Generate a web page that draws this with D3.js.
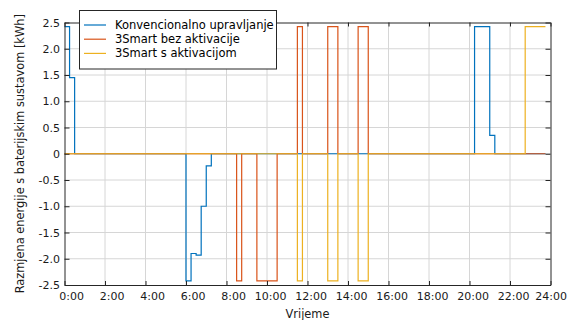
<!DOCTYPE html>
<html>
<head>
<meta charset="utf-8">
<script src="https://cdn.jsdelivr.net/npm/d3@7/dist/d3.min.js"></script>
<style>
  html, body { margin: 0; padding: 0; background: #fff; }
  svg { display: block; font-family: "DejaVu Sans", Verdana, sans-serif; }
</style>
</head>
<body>
<svg id="chart" width="568" height="320"></svg>
<script>
// Step series: hour at which each level starts, and the level (kWh)
const seriesNames = ["Konvencionalno upravljanje", "3Smart bez aktivacije", "3Smart s aktivacijom"];
const seriesColors = ["#0072BD", "#D95319", "#EDB120"];

const konvHours  = [0, 0.25, 0.5, 6.0, 6.25, 6.5, 6.75, 7.0, 7.25, 20.25, 21.0, 21.25];
const konvValues = [2.42, 1.45, 0, -2.42, -1.90, -1.93, -1.0, -0.23, 0, 2.42, 0.35, 0];

const bezHours  = [0, 8.5, 8.75, 9.5, 10.5, 11.5, 11.75, 13.0, 13.5, 14.5, 15.0];
const bezValues = [0, -2.42, 0, -2.42, 0, 2.42, 0, 2.42, 0, 2.42, 0];

const sHours  = [0, 11.5, 11.75, 13.0, 13.5, 14.5, 15.0, 22.75];
const sValues = [0, -2.42, 0, -2.42, 0, -2.42, 0, 2.42];

const lastHour = 23.75;

const xTicks = [0, 2, 4, 6, 8, 10, 12, 14, 16, 18, 20, 22, 24];
const xTickLabels = ["0:00", "2:00", "4:00", "6:00", "8:00", "10:00", "12:00", "14:00", "16:00", "18:00", "20:00", "22:00", "24:00"];
const yTicks = [-2.5, -2.0, -1.5, -1.0, -0.5, 0, 0.5, 1.0, 1.5, 2.0, 2.5];
const yTickLabels = ["-2.5", "-2.0", "-1.5", "-1.0", "-0.5", "0", "0.5", "1.0", "1.5", "2.0", "2.5"];

const xTitle = "Vrijeme";
const yTitle = "Razmjena energije s baterijskim sustavom [kWh]";

const svg = d3.select("#chart");
const W = 568;
const plotLeft = 64.5, plotRight = 550.5, plotTop = 22.5, plotBottom = 285;

const x = d3.scaleLinear().domain([0, 24]).range([plotLeft, plotRight]);
const y = d3.scaleLinear().domain([-2.5, 2.5]).range([plotBottom, plotTop]);

const axisColor = "#262626";
const gridColor = "#d6d6d6";

// Grid
const grid = svg.append("g");
grid.selectAll("line.vx").data(xTicks.slice(1, -1)).join("line")
  .attr("x1", d => x(d)).attr("x2", d => x(d))
  .attr("y1", plotTop).attr("y2", plotBottom)
  .attr("stroke", gridColor).attr("stroke-width", 1);
grid.selectAll("line.hy").data(yTicks.slice(1, -1)).join("line")
  .attr("y1", d => y(d)).attr("y2", d => y(d))
  .attr("x1", plotLeft).attr("x2", plotRight)
  .attr("stroke", gridColor).attr("stroke-width", 1);

// Series
function toPoints(hours, values) {
  const pts = hours.map((h, i) => [h, values[i]]);
  pts.push([lastHour, values[values.length - 1]]);
  return pts;
}
const series = [
  toPoints(konvHours, konvValues),
  toPoints(bezHours, bezValues),
  toPoints(sHours, sValues)
];
const line = d3.line().x(d => x(d[0])).y(d => y(d[1])).curve(d3.curveStepAfter);
svg.append("g").selectAll("path").data(series).join("path")
  .attr("d", line)
  .attr("fill", "none")
  .attr("stroke", (d, i) => seriesColors[i])
  .attr("stroke-width", 1.2);

// Axes (ticks inward on all four sides)
const fmtX = d => xTickLabels[xTicks.indexOf(d)];
const fmtY = d => yTickLabels[yTicks.indexOf(d)];

const gx = svg.append("g").attr("transform", `translate(0,${plotBottom})`)
  .call(d3.axisBottom(x).tickValues(xTicks).tickFormat(fmtX).tickSizeInner(-4).tickSizeOuter(0));
// labels sit right-aligned just past their tick; keep the last one inside the page
gx.selectAll("text").attr("text-anchor", "end")
  .attr("dx", d => Math.min(19, W - 1.5 - x(d)))
  .attr("y", 14.5).attr("dy", 0);

const gxt = svg.append("g").attr("transform", `translate(0,${plotTop})`)
  .call(d3.axisTop(x).tickValues(xTicks).tickFormat("").tickSizeInner(-4).tickSizeOuter(0));

const gy = svg.append("g").attr("transform", `translate(${plotLeft},0)`)
  .call(d3.axisLeft(y).tickValues(yTicks).tickFormat(fmtY).tickSizeInner(-5).tickSizeOuter(0));
gy.selectAll("text").attr("x", -4.5);

const gyr = svg.append("g").attr("transform", `translate(${plotRight},0)`)
  .call(d3.axisRight(y).tickValues(yTicks).tickFormat("").tickSizeInner(-5).tickSizeOuter(0));

[gx, gxt, gy, gyr].forEach(g => {
  g.select(".domain").attr("stroke", axisColor).attr("stroke-width", 1);
  g.selectAll(".tick line").attr("stroke", axisColor);
  g.selectAll("text").attr("fill", "#1a1a1a").attr("font-size", 11)
    .attr("font-family", "'DejaVu Sans', Verdana, sans-serif");
});

// Axis titles
svg.append("text")
  .attr("x", (plotLeft + plotRight) / 2).attr("y", 318)
  .attr("text-anchor", "middle").attr("font-size", 11.4).attr("fill", "#1a1a1a")
  .text(xTitle);
svg.append("text")
  .attr("transform", `translate(24,${(plotTop + plotBottom) / 2}) rotate(-90)`)
  .attr("text-anchor", "middle").attr("font-size", 11.4).attr("fill", "#1a1a1a")
  .text(yTitle);

// Legend
const legend = svg.append("g");
legend.append("rect")
  .attr("x", 79.5).attr("y", 10.5).attr("width", 197).attr("height", 58.5)
  .attr("fill", "#fff").attr("stroke", axisColor).attr("stroke-width", 1);
const rows = legend.selectAll("g.row").data(seriesNames).join("g")
  .attr("transform", (d, i) => `translate(0,${25 + i * 14.2})`);
rows.append("line")
  .attr("x1", 84).attr("x2", 106).attr("y1", 0).attr("y2", 0)
  .attr("stroke", (d, i) => seriesColors[i]).attr("stroke-width", 1.2);
rows.append("text")
  .attr("x", 115).attr("y", 0).attr("dy", "0.35em")
  .attr("font-size", 11.5).attr("fill", "#000")
  .text(d => d);
</script>
</body>
</html>
